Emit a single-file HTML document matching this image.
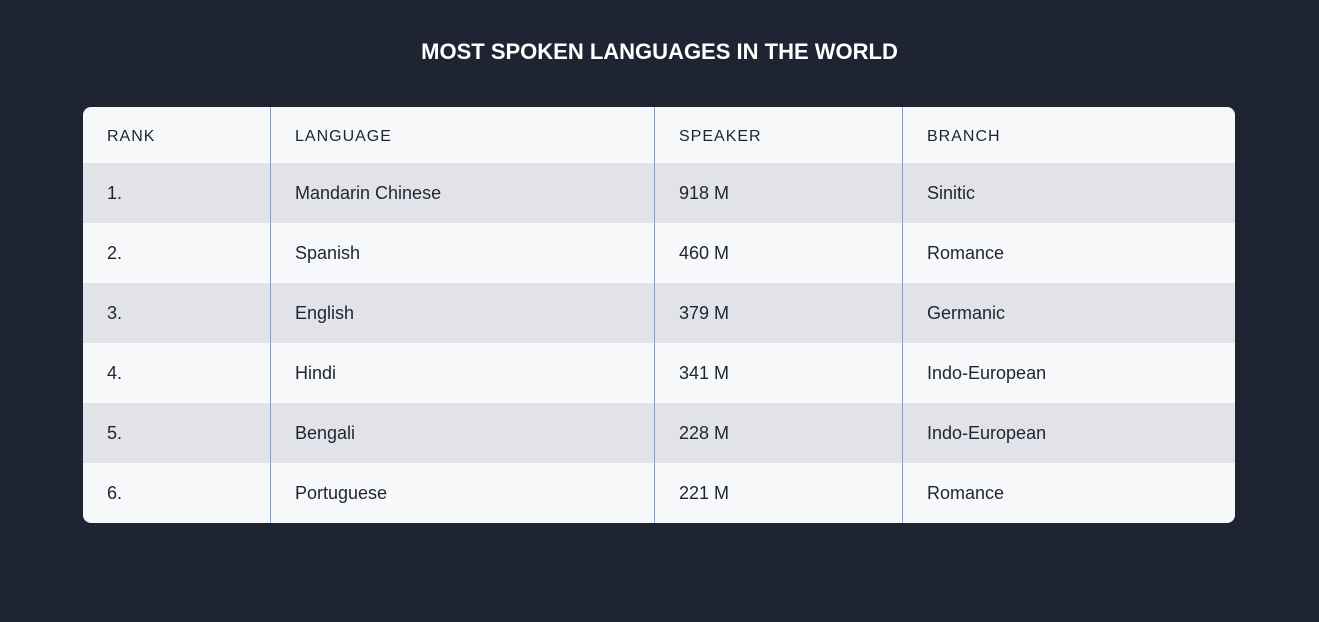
<!DOCTYPE html>
<html><head><meta charset="utf-8"><style>
html,body{margin:0;padding:0;width:1319px;height:622px;background:#1f2433;overflow:hidden;font-family:"Liberation Sans",sans-serif}
h1{position:absolute;left:0;width:1319px;top:37px;margin:0;text-align:center;color:#fff;font-size:22px;font-weight:bold;letter-spacing:0px;line-height:30px}
.tbl{position:absolute;left:83px;top:107px;width:1152px;height:416px;border-radius:8px;overflow:hidden;background:#f7f8fa}
.row{position:absolute;left:0;width:1152px;height:60px}
.row.alt{background:#e2e3e8}
.cell{position:absolute;top:0;height:100%;display:flex;align-items:center;color:#1f2433;font-size:18px}
.hd .cell{font-size:16px;letter-spacing:1px;padding-top:3px;box-sizing:border-box}
.div{position:absolute;top:0;width:1px;height:416px;background:#8a9cc4}
</style></head><body>
<h1>MOST SPOKEN LANGUAGES IN THE WORLD</h1>
<div class="tbl" id="tbl"></div>
<script>
const ranks=["1.","2.","3.","4.","5.","6."];
const languages=["Mandarin Chinese","Spanish","English","Hindi","Bengali","Portuguese"];
const speakers=["918 M","460 M","379 M","341 M","228 M","221 M"];
const branches=["Sinitic","Romance","Germanic","Indo-European","Indo-European","Romance"];
const headers=["RANK","LANGUAGE","SPEAKER","BRANCH"];
const colX=[24,212,596,844];
const t=document.getElementById('tbl');
function mkRow(vals,top,cls,name){
  const r=document.createElement('div');
  r.className='row '+cls;
  r.style.top=top+'px';
  
  
  vals.forEach((v,i)=>{
    const c=document.createElement('div');
    c.className='cell';c.style.left=colX[i]+'px';c.textContent=v;
    
    
    r.appendChild(c);
  });
  t.appendChild(r);
  return r;
}
const h=mkRow(headers,0,'hd','header-row');h.style.height='56px';
ranks.forEach((rk,i)=>{
  mkRow([rk,languages[i],speakers[i],branches[i]],56+i*60,i%2===0?'alt':'','row-'+(i+1));
});
[187,571,819].forEach(x=>{
  const d=document.createElement('div');d.className='div';d.style.left=x+'px';
  
  
  t.appendChild(d);
});
</script>
</body></html>
